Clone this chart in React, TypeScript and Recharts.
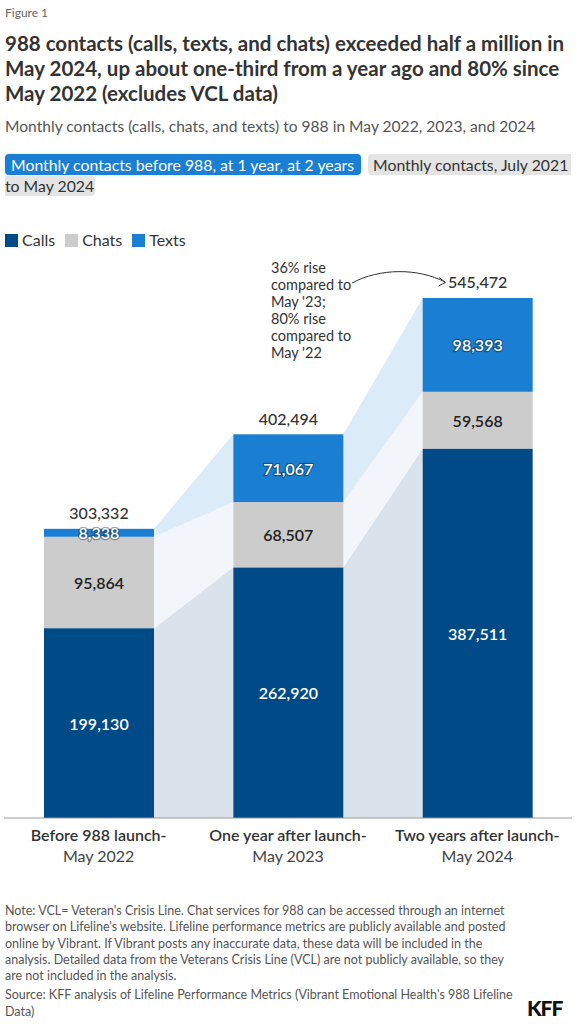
import React from "react";
import { BarChart, Bar, XAxis, YAxis, LabelList } from "recharts";

// ---------- data ----------
const periodLine1 = ["Before 988 launch-", "One year after launch-", "Two years after launch-"];
const periodLine2 = ["May 2022", "May 2023", "May 2024"];
const calls = [199130, 262920, 387511];
const chats = [95864, 68507, 59568];
const texts = [8338, 71067, 98393];
const totals = [303332, 402494, 545472];
const seriesNames = ["Calls", "Chats", "Texts"];
const seriesKeys = ["calls", "chats", "texts"];
const annotationLines = ["36% rise", "compared to", "May '23;", "80% rise", "compared to", "May '22"];
const titleLines = [
  "988 contacts (calls, texts, and chats) exceeded half a million in",
  "May 2024, up about one-third from a year ago and 80% since",
  "May 2022 (excludes VCL data)",
];
const subtitle = "Monthly contacts (calls, chats, and texts) to 988 in May 2022, 2023, and 2024";
const noteLines = [
  "Note: VCL= Veteran's Crisis Line. Chat services for 988 can be accessed through an internet",
  "browser on Lifeline's website. Lifeline performance metrics are publicly available and posted",
  "online by Vibrant. If Vibrant posts any inaccurate data, these data will be included in the",
  "analysis. Detailed data from the Veterans Crisis Line (VCL) are not publicly available, so they",
  "are not included in the analysis.",
];
const sourceLines = [
  "Source: KFF analysis of Lifeline Performance Metrics (Vibrant Emotional Health's 988 Lifeline",
  "Data)",
];

const seriesValues = [calls, chats, texts];
const data = periodLine1.map((p, i) => ({
  key: p,
  line2: periodLine2[i],
  calls: calls[i],
  chats: chats[i],
  texts: texts[i],
  total: totals[i],
}));

// ---------- style / layout ----------
const FONT = "Lato, 'Noto Sans', sans-serif";
const FILLS = ["#004b87", "#cccccc", "#1a7fd2"];
const BANDS = ["#dae3ec", "#f2f5f9", "#dcebf8"];
const LABEL_COLORS = ["#ffffff", "#222222", "#ffffff"];
const W = 577;
const CH = 880;
const M = { top: 246, right: 5, bottom: 0, left: 4 };
const XH = 62;
const Y_MAX = 600000;
const PLOT_W = W - M.left - M.right;
const PLOT_H = CH - M.top - M.bottom - XH;
const PPU = PLOT_H / Y_MAX;
const STEP = PLOT_W / data.length;
const AXIS_Y = M.top + PLOT_H;

const lowerOf = (s: number, i: number) => {
  let sum = 0;
  for (let k = 0; k < s; k++) sum += seriesValues[k][i];
  return sum;
};

const fmt = (v: number) => Number(v).toLocaleString("en-US");

const makeShape = (s: number) => (props: any) => {
  const { x, y, width, height } = props;
  const index = props.index ?? periodLine1.indexOf(props.payload?.key);
  const lo = lowerOf(s, index);
  const yBase = y + height;
  const toY = (v: number) => yBase - (v - lo) * PPU;
  let band = null;
  if (index < data.length - 1) {
    const loN = lowerOf(s, index + 1);
    const hiN = loN + seriesValues[s][index + 1];
    const x0 = x + width;
    const x1 = x + STEP;
    band = (
      <polygon
        points={`${x0},${y} ${x1},${toY(hiN)} ${x1},${toY(loN)} ${x0},${yBase}`}
        fill={BANDS[s]}
      />
    );
  }
  return (
    <g>
      {band}
      <rect x={x} y={y} width={width} height={height} fill={FILLS[s]} />
    </g>
  );
};

const makeSegLabel = (s: number) => (p: any) => {
  const { x, y, width, height, value } = p;
  const halo = s === 2;
  return (
    <text
      x={x + width / 2}
      y={y + height / 2}
      textAnchor="middle"
      dominantBaseline="central"
      fontFamily={FONT}
      fontSize={16}
      fontWeight={600}
      fill={LABEL_COLORS[s]}
      stroke={halo ? "rgba(0,0,0,0.35)" : "none"}
      strokeWidth={halo ? 2.5 : 0}
      paintOrder="stroke"
    >
      {fmt(value)}
    </text>
  );
};

const totalLabel = (p: any) => {
  const { x, y, width, value } = p;
  return (
    <text
      x={x + width / 2}
      y={y - 16}
      textAnchor="middle"
      dominantBaseline="central"
      fontFamily={FONT}
      fontSize={16}
      fontWeight={500}
      fill="#333333"
    >
      {fmt(value)}
    </text>
  );
};

const XTick = (props: any) => {
  const { x, payload, index } = props;
  const i = index ?? periodLine1.indexOf(payload?.value);
  return (
    <g>
      <text
        x={x}
        y={AXIS_Y + 16}
        textAnchor="middle"
        dominantBaseline="central"
        fontFamily={FONT}
        fontSize={16}
        fontWeight={600}
        fill="#333333"
      >
        {periodLine1[i]}
      </text>
      <text
        x={x}
        y={AXIS_Y + 37}
        textAnchor="middle"
        dominantBaseline="central"
        fontFamily={FONT}
        fontSize={16}
        fontWeight={400}
        fill="#444444"
      >
        {periodLine2[i]}
      </text>
    </g>
  );
};

const abs = (s: React.CSSProperties): React.CSSProperties => ({ position: "absolute", whiteSpace: "nowrap", ...s });

export default function App() {
  return (
    <div
      style={{
        position: "absolute",
        left: 0,
        top: 0,
        width: W,
        height: 1024,
        background: "#ffffff",
        fontFamily: FONT,
        overflow: "hidden",
      }}
    >
      <div style={abs({ left: 5, top: 5, fontSize: 12, lineHeight: "16px", color: "#666" })}>Figure 1</div>
      {titleLines.map((t, i) => (
        <div
          key={i}
          style={abs({
            left: 5,
            top: 30.5 + i * 25,
            fontSize: 20.5,
            lineHeight: "25px",
            fontWeight: 700,
            color: "#333",
          })}
        >
          {t}
        </div>
      ))}
      <div style={abs({ left: 5, top: 116, fontSize: 15.6, lineHeight: "20px", color: "#555" })}>{subtitle}</div>

      {/* toggle buttons */}
      <div
        style={abs({
          left: 5,
          top: 154,
          width: 356,
          height: 21,
          background: "#1a7fd2",
          borderRadius: 4,
          color: "#fff",
          fontSize: 15.8,
          lineHeight: "21px",
          paddingLeft: 6,
          boxSizing: "border-box",
          boxShadow: "0 0 3px rgba(26,127,210,0.25)",
        })}
      >
        Monthly contacts before 988, at 1 year, at 2 years
      </div>
      <div
        style={abs({
          left: 368,
          top: 154,
          width: 203,
          height: 21,
          background: "#e4e4e4",
          borderRadius: "4px 0 0 4px",
          color: "#333",
          fontSize: 15.8,
          lineHeight: "21px",
          paddingLeft: 5,
          boxSizing: "border-box",
          overflow: "hidden",
        })}
      >
        Monthly contacts, July 2021
      </div>
      <div
        style={abs({
          left: 5,
          top: 176,
          width: 90,
          height: 20,
          background: "#e4e4e4",
          borderRadius: "0 4px 4px 0",
          color: "#333",
          fontSize: 15.8,
          lineHeight: "20px",
          boxSizing: "border-box",
        })}
      >
        to May 2024
      </div>

      {/* legend */}
      <div style={abs({ left: 5, top: 230, height: 20, display: "flex", alignItems: "center" })}>
        {seriesNames.map((n, s) => (
          <div key={n} style={{ display: "flex", alignItems: "center", marginRight: 10 }}>
            <div style={{ width: 13, height: 13, background: FILLS[s], marginRight: 4 }} />
            <span style={{ fontSize: 16, lineHeight: "20px", color: "#333" }}>{n}</span>
          </div>
        ))}
      </div>

      {/* chart */}
      <div style={abs({ left: 0, top: 0, width: W, height: CH })}>
        <BarChart width={W} height={CH} data={data} margin={M} barSize={110}>
          <YAxis hide domain={[0, Y_MAX]} type="number" />
          <XAxis
            dataKey="key"
            height={XH}
            axisLine={{ stroke: "#999999", strokeWidth: 1 }}
            tickLine={false}
            tick={<XTick />}
            interval={0}
          />
          {seriesKeys.map((k, s) => (
            <Bar key={k} dataKey={k} stackId="a" fill={FILLS[s]} isAnimationActive={false} shape={makeShape(s)}>
              <LabelList dataKey={k} content={makeSegLabel(s)} />
              {s === 2 ? <LabelList dataKey="total" content={totalLabel} /> : null}
            </Bar>
          ))}
        </BarChart>
      </div>

      {/* annotation */}
      {annotationLines.map((t, i) => (
        <div key={i} style={abs({ left: 271, top: 258.5 + i * 17, fontSize: 14.5, lineHeight: "17px", color: "#333" })}>
          {t}
        </div>
      ))}
      <svg style={{ position: "absolute", left: 0, top: 0 }} width={W} height={400}>
        <path d="M352,283 C380,268 418,268 445,282" fill="none" stroke="#333" strokeWidth={1} />
        <path d="M439,277.5 L445.5,282.5 L438.5,286" fill="none" stroke="#333" strokeWidth={1} />
      </svg>

      {/* footer */}
      {noteLines.map((t, i) => (
        <div key={i} style={abs({ left: 5, top: 903 + i * 16.25, fontSize: 12.5, lineHeight: "16px", color: "#555" })}>
          {t}
        </div>
      ))}
      {sourceLines.map((t, i) => (
        <div key={i} style={abs({ left: 5, top: 987 + i * 16.5, fontSize: 12.5, lineHeight: "16px", color: "#555" })}>
          {t}
        </div>
      ))}
      <div
        style={abs({
          left: 527,
          top: 997,
          fontSize: 21,
          lineHeight: "22px",
          fontWeight: 900,
          color: "#111",
          letterSpacing: -1,
        })}
      >
        KFF
      </div>
    </div>
  );
}
